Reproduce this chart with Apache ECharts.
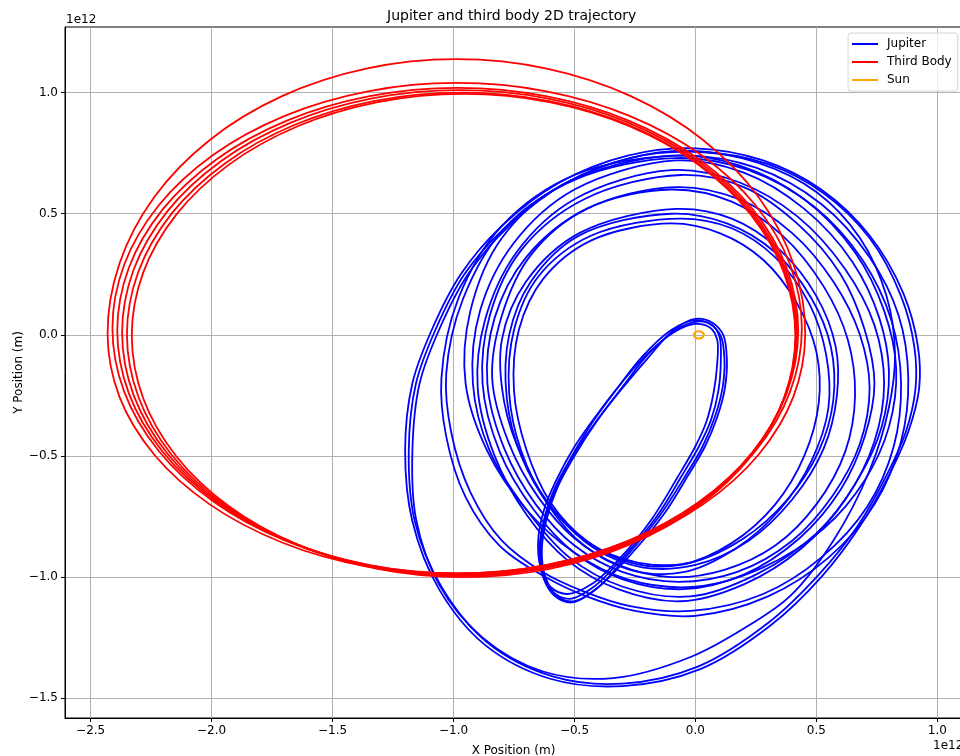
<!DOCTYPE html>
<html>
<head>
<meta charset="utf-8">
<title>Jupiter and third body 2D trajectory</title>
<script src="https://cdn.jsdelivr.net/npm/echarts@6/dist/echarts.min.js"></script>
<style>
  html, body { margin: 0; padding: 0; background: #ffffff; }
  #chart { width: 960px; height: 756px; }
</style>
</head>
<body>
<div id="chart"></div>
<script>
// All positions are in units of 1e12 m, as [x, y].

const xTickValues = [-2.5, -2.0, -1.5, -1.0, -0.5, 0.0, 0.5, 1.0];
const yTickValues = [-1.5, -1.0, -0.5, 0.0, 0.5, 1.0];

// Jupiter: narrow loops passing close to the Sun
const jupiterInner1 = [[0.0,0.066],[0.07,0.05],[0.115,0.0],[0.13,-0.1],[0.122,-0.22],[0.09,-0.34],[0.04,-0.46],[-0.03,-0.58],[-0.13,-0.74],[-0.27,-0.91],[-0.4,-1.04],[-0.5,-1.1],[-0.57,-1.08],[-0.62,-1.0],[-0.635,-0.89],[-0.615,-0.76],[-0.57,-0.63],[-0.5,-0.5],[-0.41,-0.36],[-0.31,-0.23],[-0.2,-0.1],[-0.09,0.02]];
const jupiterInner2 = [[-0.01,0.06],[0.06,0.045],[0.105,-0.005],[0.12,-0.1],[0.112,-0.22],[0.08,-0.34],[0.03,-0.46],[-0.04,-0.58],[-0.15,-0.75],[-0.29,-0.92],[-0.41,-1.05],[-0.51,-1.105],[-0.58,-1.08],[-0.63,-1.0],[-0.645,-0.89],[-0.625,-0.76],[-0.58,-0.63],[-0.51,-0.5],[-0.425,-0.36],[-0.33,-0.23],[-0.22,-0.09],[-0.1,0.02]];
const jupiterInner3 = [[0.01,0.055],[0.07,0.04],[0.1,-0.01],[0.105,-0.11],[0.095,-0.23],[0.065,-0.35],[0.015,-0.46],[-0.055,-0.58],[-0.16,-0.75],[-0.3,-0.92],[-0.42,-1.04],[-0.52,-1.09],[-0.59,-1.06],[-0.63,-0.98],[-0.64,-0.87],[-0.615,-0.74],[-0.565,-0.61],[-0.495,-0.48],[-0.405,-0.35],[-0.305,-0.22],[-0.195,-0.08],[-0.08,0.02]];
const jupiterInner4 = [[0.0,0.045],[0.06,0.03],[0.09,-0.02],[0.09,-0.12],[0.075,-0.24],[0.045,-0.36],[0.0,-0.46],[-0.075,-0.59],[-0.18,-0.76],[-0.31,-0.92],[-0.43,-1.03],[-0.53,-1.07],[-0.6,-1.04],[-0.64,-0.96],[-0.65,-0.85],[-0.625,-0.72],[-0.575,-0.6],[-0.505,-0.47],[-0.415,-0.34],[-0.315,-0.21],[-0.2,-0.08],[-0.09,0.01]];

// Jupiter: wide loops reaching furthest out
const jupiterOuter1 = [[0.0,0.77],[0.28,0.72],[0.52,0.6],[0.72,0.41],[0.86,0.17],[0.92,-0.05],[0.925,-0.22],[0.88,-0.4],[0.8,-0.58],[0.68,-0.79],[0.52,-1.0],[0.31,-1.2],[0.02,-1.38],[-0.3,-1.45],[-0.6,-1.42],[-0.87,-1.28],[-1.06,-1.05],[-1.17,-0.77],[-1.2,-0.48],[-1.17,-0.2],[-1.09,0.02],[-0.97,0.25],[-0.8,0.45],[-0.56,0.63],[-0.28,0.74]];
const jupiterOuter2 = [[-0.02,0.76],[0.26,0.71],[0.5,0.59],[0.68,0.4],[0.79,0.16],[0.825,-0.08],[0.8,-0.3],[0.72,-0.56],[0.57,-0.85],[0.39,-1.08],[0.22,-1.2],[-0.02,-1.33],[-0.34,-1.417],[-0.63,-1.39],[-0.88,-1.25],[-1.06,-1.03],[-1.155,-0.76],[-1.17,-0.48],[-1.14,-0.2],[-1.06,0.02],[-0.94,0.25],[-0.77,0.45],[-0.53,0.63],[-0.27,0.73]];
const jupiterOuter3 = [[0.02,0.755],[0.3,0.705],[0.53,0.585],[0.72,0.4],[0.85,0.16],[0.905,-0.05],[0.91,-0.22],[0.87,-0.4],[0.79,-0.58],[0.67,-0.79],[0.51,-0.99],[0.3,-1.19],[0.01,-1.37],[-0.3,-1.44],[-0.59,-1.41],[-0.86,-1.27],[-1.05,-1.04],[-1.16,-0.77],[-1.185,-0.48],[-1.155,-0.2],[-1.075,0.02],[-0.955,0.25],[-0.785,0.445],[-0.55,0.62],[-0.27,0.73]];

// Jupiter: loops of intermediate size
const jupiterMid1 = [[-0.05,0.74],[0.25,0.69],[0.52,0.54],[0.72,0.32],[0.84,0.08],[0.88,-0.18],[0.85,-0.44],[0.74,-0.7],[0.55,-0.92],[0.3,-1.08],[0.0,-1.16],[-0.25,-1.14],[-0.45,-1.08],[-0.62,-1.0],[-0.81,-0.87],[-0.95,-0.67],[-1.03,-0.42],[-1.05,-0.18],[-0.98,0.15],[-0.8,0.45],[-0.5,0.66]];
const jupiterMid2 = [[-0.08,0.73],[0.22,0.68],[0.49,0.53],[0.69,0.31],[0.81,0.06],[0.85,-0.2],[0.82,-0.46],[0.71,-0.71],[0.52,-0.92],[0.28,-1.07],[-0.02,-1.14],[-0.27,-1.12],[-0.46,-1.06],[-0.63,-0.98],[-0.8,-0.85],[-0.93,-0.65],[-1.01,-0.4],[-1.03,-0.16],[-0.96,0.15],[-0.79,0.44],[-0.5,0.64]];
const jupiterMid3 = [[-0.1,0.74],[0.18,0.7],[0.45,0.56],[0.66,0.34],[0.78,0.1],[0.83,-0.14],[0.8,-0.38],[0.7,-0.6],[0.53,-0.8],[0.28,-0.96],[0.0,-1.04],[-0.28,-1.01],[-0.5,-0.9],[-0.7,-0.72],[-0.86,-0.48],[-0.95,-0.2],[-0.93,0.1],[-0.8,0.4],[-0.55,0.62]];
const jupiterMid4 = [[-0.08,0.72],[0.2,0.67],[0.45,0.52],[0.65,0.3],[0.76,0.07],[0.8,-0.15],[0.77,-0.38],[0.67,-0.6],[0.5,-0.82],[0.25,-0.99],[-0.02,-1.08],[-0.3,-1.04],[-0.52,-0.92],[-0.7,-0.72],[-0.85,-0.48],[-0.92,-0.2],[-0.89,0.1],[-0.75,0.38],[-0.5,0.6]];
const jupiterMid5 = [[-0.1,0.68],[0.18,0.63],[0.42,0.49],[0.62,0.27],[0.74,0.04],[0.78,-0.2],[0.74,-0.44],[0.62,-0.68],[0.44,-0.88],[0.2,-1.03],[-0.06,-1.1],[-0.32,-1.05],[-0.53,-0.93],[-0.7,-0.74],[-0.83,-0.5],[-0.9,-0.22],[-0.87,0.06],[-0.74,0.34],[-0.5,0.56]];
const jupiterMid6 = [[-0.06,0.66],[0.2,0.61],[0.42,0.46],[0.6,0.25],[0.7,0.02],[0.74,-0.2],[0.7,-0.42],[0.6,-0.64],[0.43,-0.84],[0.2,-0.99],[-0.05,-1.05],[-0.3,-1.01],[-0.5,-0.9],[-0.67,-0.72],[-0.81,-0.48],[-0.88,-0.2],[-0.85,0.08],[-0.72,0.35],[-0.46,0.56]];
const jupiterMid7 = [[-0.08,0.61],[0.18,0.56],[0.4,0.42],[0.57,0.22],[0.68,0.0],[0.72,-0.22],[0.68,-0.45],[0.57,-0.66],[0.4,-0.85],[0.17,-0.98],[-0.07,-1.02],[-0.3,-0.98],[-0.5,-0.87],[-0.66,-0.7],[-0.79,-0.47],[-0.86,-0.2],[-0.83,0.07],[-0.7,0.32],[-0.45,0.52]];
const jupiterMid8 = [[-0.1,0.6],[0.15,0.55],[0.36,0.41],[0.53,0.2],[0.63,-0.02],[0.66,-0.25],[0.62,-0.48],[0.5,-0.7],[0.33,-0.87],[0.12,-0.97],[-0.1,-1.0],[-0.32,-0.95],[-0.5,-0.84],[-0.65,-0.67],[-0.77,-0.45],[-0.84,-0.18],[-0.8,0.08],[-0.68,0.33],[-0.45,0.52]];

// Jupiter: the smallest of the round loops
const jupiterSmall1 = [[-0.08,0.52],[0.15,0.48],[0.35,0.35],[0.5,0.16],[0.58,-0.05],[0.585,-0.25],[0.53,-0.47],[0.4,-0.68],[0.22,-0.85],[0.0,-0.95],[-0.22,-0.96],[-0.42,-0.88],[-0.58,-0.73],[-0.71,-0.52],[-0.79,-0.28],[-0.8,-0.02],[-0.7,0.22],[-0.48,0.42]];
const jupiterSmall2 = [[-0.1,0.5],[0.13,0.46],[0.33,0.34],[0.48,0.15],[0.56,-0.05],[0.57,-0.27],[0.51,-0.48],[0.38,-0.68],[0.2,-0.84],[-0.02,-0.94],[-0.24,-0.94],[-0.44,-0.86],[-0.6,-0.71],[-0.72,-0.5],[-0.78,-0.26],[-0.77,0.0],[-0.68,0.22],[-0.48,0.41]];
const jupiterSmall3 = [[-0.06,0.48],[0.15,0.44],[0.33,0.32],[0.47,0.13],[0.54,-0.08],[0.55,-0.3],[0.48,-0.52],[0.35,-0.72],[0.17,-0.88],[-0.05,-0.98],[-0.27,-0.97],[-0.46,-0.87],[-0.61,-0.7],[-0.72,-0.48],[-0.77,-0.24],[-0.75,0.02],[-0.65,0.24],[-0.43,0.41]];
const jupiterSmall4 = [[-0.1,0.46],[0.1,0.42],[0.28,0.31],[0.42,0.13],[0.5,-0.07],[0.51,-0.28],[0.45,-0.5],[0.33,-0.7],[0.15,-0.86],[-0.06,-0.95],[-0.27,-0.94],[-0.45,-0.85],[-0.6,-0.69],[-0.7,-0.47],[-0.75,-0.23],[-0.73,0.02],[-0.63,0.23],[-0.43,0.39]];

// Third body: one wide loop, one slightly wider, then a tight bundle
const thirdBodyOuter = [[-0.988,1.138],[-0.6148,1.0992],[-0.267,0.9855],[0.0316,0.8047],[0.2608,0.569],[0.4048,0.2945],[0.454,0.0],[0.4048,-0.2562],[0.2608,-0.495],[0.0316,-0.7],[-0.267,-0.8573],[-0.6148,-0.9562],[-0.988,-0.99],[-1.3612,-0.9562],[-1.709,-0.8573],[-2.0076,-0.7],[-2.2368,-0.495],[-2.3808,-0.2562],[-2.43,0.0],[-2.3808,0.2945],[-2.2368,0.569],[-2.0076,0.8047],[-1.709,0.9855],[-1.3612,1.0992]];
const thirdBodySecond = [[-0.985,1.04],[-0.6162,1.0055],[-0.2725,0.9043],[0.0226,0.7435],[0.2491,0.5338],[0.3914,0.2895],[0.44,0.0275],[0.3914,-0.2345],[0.2491,-0.4788],[0.0226,-0.6885],[-0.2725,-0.8493],[-0.6162,-0.9505],[-0.985,-0.985],[-1.3538,-0.9505],[-1.6975,-0.8493],[-1.9926,-0.6885],[-2.2191,-0.4788],[-2.3614,-0.2345],[-2.41,0.0275],[-2.3614,0.2895],[-2.2191,0.5338],[-1.9926,0.7435],[-1.6975,0.9043],[-1.3538,1.0055]];
const thirdBodyBundle1 = [[-0.9825,1.02],[-0.6182,0.9858],[-0.2787,0.8857],[0.0127,0.7264],[0.2364,0.5188],[0.377,0.2769],[0.425,0.0175],[0.377,-0.2419],[0.2364,-0.4838],[0.0127,-0.6914],[-0.2787,-0.8507],[-0.6182,-0.9508],[-0.9825,-0.985],[-1.3468,-0.9508],[-1.6863,-0.8507],[-1.9777,-0.6914],[-2.2014,-0.4838],[-2.342,-0.2419],[-2.39,0.0175],[-2.342,0.2769],[-2.2014,0.5188],[-1.9777,0.7264],[-1.6863,0.8857],[-1.3468,0.9858]];
const thirdBodyBundle2 = [[-0.975,1.01],[-0.614,0.976],[-0.2775,0.876],[0.0114,0.7171],[0.2331,0.51],[0.3724,0.2688],[0.42,0.01],[0.3724,-0.2488],[0.2331,-0.49],[0.0114,-0.6971],[-0.2775,-0.856],[-0.614,-0.9559],[-0.975,-0.99],[-1.336,-0.9559],[-1.6725,-0.856],[-1.9614,-0.6971],[-2.1831,-0.49],[-2.3224,-0.2488],[-2.37,0.01],[-2.3224,0.2688],[-2.1831,0.51],[-1.9614,0.7171],[-1.6725,0.876],[-1.336,0.976]];
const thirdBodyBundle3 = [[-0.967,1.0],[-0.6091,0.966],[-0.2755,0.8663],[0.0109,0.7078],[0.2307,0.5013],[0.3688,0.2607],[0.416,0.0025],[0.3688,-0.2557],[0.2307,-0.4963],[0.0109,-0.7028],[-0.2755,-0.8613],[-0.6091,-0.961],[-0.967,-0.995],[-1.3249,-0.961],[-1.6585,-0.8613],[-1.9449,-0.7028],[-2.1647,-0.4963],[-2.3028,-0.2557],[-2.35,0.0025],[-2.3028,0.2607],[-2.1647,0.5013],[-1.9449,0.7078],[-1.6585,0.8663],[-1.3249,0.966]];
const thirdBodyBundle4 = [[-0.9585,0.995],[-0.6036,0.961],[-0.2727,0.8613],[0.0113,0.7028],[0.2292,0.4963],[0.3662,0.2557],[0.413,-0.0025],[0.3662,-0.2607],[0.2292,-0.5013],[0.0113,-0.7078],[-0.2727,-0.8663],[-0.6036,-0.966],[-0.9585,-1.0],[-1.3134,-0.966],[-1.6443,-0.8663],[-1.9283,-0.7078],[-2.1462,-0.5013],[-2.2832,-0.2607],[-2.33,-0.0025],[-2.2832,0.2557],[-2.1462,0.4963],[-1.9283,0.7028],[-1.6443,0.8613],[-1.3134,0.961]];

// Sun: small wobble around the barycentre
const sunLoop = [[0.014,0.015],[0.0245,0.013],[0.032,0.0075],[0.035,0.0],[0.032,-0.0075],[0.0245,-0.013],[0.014,-0.015],[0.0035,-0.013],[-0.004,-0.0075],[-0.007,0.0],[-0.004,0.0075],[0.0035,0.013]];

const jupiterLoops = [
  jupiterInner1, jupiterInner2, jupiterInner3, jupiterInner4,
  jupiterOuter1, jupiterOuter2, jupiterOuter3,
  jupiterMid1, jupiterMid2, jupiterMid3, jupiterMid4,
  jupiterMid5, jupiterMid6, jupiterMid7, jupiterMid8,
  jupiterSmall1, jupiterSmall2, jupiterSmall3, jupiterSmall4
];
const thirdBodyLoops = [
  thirdBodyOuter, thirdBodySecond,
  thirdBodyBundle1, thirdBodyBundle2, thirdBodyBundle3, thirdBodyBundle4
];

const FONT = 'DejaVu Sans';
const minus = v => Number(v).toFixed(1).replace('-', '\u2212');

// Legend key: a short horizontal stroke inside a 26x14 box
const LINE_ICON = 'path://M0,0L0.01,0L0.01,0.01ZM25.99,13.99L26,13.99L26,14ZM0,6.1L26,6.1L26,7.9L0,7.9Z';

// Closed centripetal Catmull-Rom curve through pixel points, as SVG path data
function closedCurve(pts) {
  const n = pts.length;
  const dist = (a, b) => Math.max(Math.sqrt(Math.hypot(b[0] - a[0], b[1] - a[1])), 1e-6);
  const f = v => v.toFixed(2);
  let d = 'M' + f(pts[0][0]) + ',' + f(pts[0][1]);
  for (let i = 0; i < n; i++) {
    const p0 = pts[(i - 1 + n) % n], p1 = pts[i], p2 = pts[(i + 1) % n], p3 = pts[(i + 2) % n];
    const d1 = dist(p0, p1), d2 = dist(p1, p2), d3 = dist(p2, p3);
    const c1 = [0, 1].map(k =>
      (d1 * d1 * p2[k] - d2 * d2 * p0[k] + (2 * d1 * d1 + 3 * d1 * d2 + d2 * d2) * p1[k]) / (3 * d1 * (d1 + d2)));
    const c2 = [0, 1].map(k =>
      (d3 * d3 * p1[k] - d2 * d2 * p3[k] + (2 * d3 * d3 + 3 * d3 * d2 + d2 * d2) * p2[k]) / (3 * d3 * (d3 + d2)));
    d += 'C' + f(c1[0]) + ',' + f(c1[1]) + ',' + f(c2[0]) + ',' + f(c2[1]) + ',' + f(p2[0]) + ',' + f(p2[1]);
  }
  return d + 'Z';
}

// One custom series per loop; the loop is drawn once, from its data, through the axes
function loopSeries(name, color, loop, width) {
  return {
    name: name,
    type: 'custom',
    coordinateSystem: 'cartesian2d',
    data: loop,
    clip: true,
    silent: true,
    animation: false,
    itemStyle: { color: color },
    renderItem: function (params, api) {
      if (params.dataIndex !== 0) return null;
      const pts = loop.map(p => api.coord(p));
      return {
        type: 'path',
        shape: { pathData: closedCurve(pts) },
        style: { fill: 'none', stroke: color, lineWidth: width, lineJoin: 'round' }
      };
    }
  };
}

const series = [];
jupiterLoops.forEach(l => series.push(loopSeries('Jupiter', '#0000ff', l, 1.8)));
thirdBodyLoops.forEach(l => series.push(loopSeries('Third Body', '#ff0000', l, 1.8)));
series.push(loopSeries('Sun', '#ffa500', sunLoop, 2));

const chart = echarts.init(document.getElementById('chart'), null, { renderer: 'canvas' });

chart.setOption({
  animation: false,
  backgroundColor: '#ffffff',
  textStyle: { fontFamily: FONT },
  title: {
    text: 'Jupiter and third body 2D trajectory',
    left: 387,
    top: 9,
    padding: 0,
    textStyle: { fontFamily: FONT, fontSize: 14, fontWeight: 'normal', color: '#000000' }
  },
  legend: {
    data: [
      { name: 'Jupiter', icon: LINE_ICON },
      { name: 'Third Body', icon: LINE_ICON },
      { name: 'Sun', icon: LINE_ICON }
    ],
    orient: 'vertical',
    left: 848,
    top: 33,
    padding: [4, 6, 4, 4],
    itemGap: 4,
    itemWidth: 26,
    itemHeight: 14,
    backgroundColor: 'rgba(255,255,255,0.8)',
    borderColor: '#d6d6d6',
    borderWidth: 1,
    borderRadius: 3,
    selectedMode: false,
    textStyle: { fontFamily: FONT, fontSize: 12, color: '#000000', padding: [0, 0, 0, 4] }
  },
  grid: {
    left: 65,
    top: 27,
    width: 897,
    height: 691,
    show: true,
    borderColor: '#000000',
    borderWidth: 1,
    backgroundColor: 'transparent',
    containLabel: false,
    outerBoundsMode: 'none'
  },
  xAxis: {
    type: 'value',
    min: -2.606,
    max: 1.102,
    splitNumber: 8,
    minInterval: 0.5,
    maxInterval: 0.5,
    name: 'X Position (m)',
    nameLocation: 'middle',
    nameGap: 27,
    nameMoveOverlap: false,
    nameTextStyle: { fontFamily: FONT, fontSize: 12, color: '#000000' },
    axisLine: { show: true, onZero: false, lineStyle: { color: '#000000', width: 1 } },
    axisTick: { show: true, length: 4, lineStyle: { color: '#000000', width: 1 }, customValues: xTickValues },
    axisLabel: {
      fontFamily: FONT, fontSize: 12, color: '#000000', margin: 7,
      showMinLabel: true, showMaxLabel: true,
      customValues: xTickValues,
      formatter: minus
    },
    splitLine: { show: true, lineStyle: { color: '#b0b0b0', width: 1 } }
  },
  yAxis: {
    type: 'value',
    min: -1.582,
    max: 1.271,
    splitNumber: 6,
    minInterval: 0.5,
    maxInterval: 0.5,
    name: 'Y Position (m)',
    nameLocation: 'middle',
    nameGap: 40,
    nameMoveOverlap: false,
    nameTextStyle: { fontFamily: FONT, fontSize: 12, color: '#000000' },
    axisLine: { show: true, onZero: false, lineStyle: { color: '#000000', width: 1 } },
    axisTick: { show: true, length: 4, lineStyle: { color: '#000000', width: 1 }, customValues: yTickValues },
    axisLabel: {
      fontFamily: FONT, fontSize: 12, color: '#000000', margin: 7,
      showMinLabel: true, showMaxLabel: true,
      customValues: yTickValues,
      formatter: minus
    },
    splitLine: { show: true, lineStyle: { color: '#b0b0b0', width: 1 } }
  },
  graphic: [
    { type: 'text', left: 66, top: 14, silent: true,
      style: { text: '1e12', fontFamily: FONT, fontSize: 12, fill: '#000000' } },
    { type: 'text', left: 933, top: 740, silent: true,
      style: { text: '1e12', fontFamily: FONT, fontSize: 12, fill: '#000000' } }
  ],
  series: series
});
</script>
</body>
</html>
